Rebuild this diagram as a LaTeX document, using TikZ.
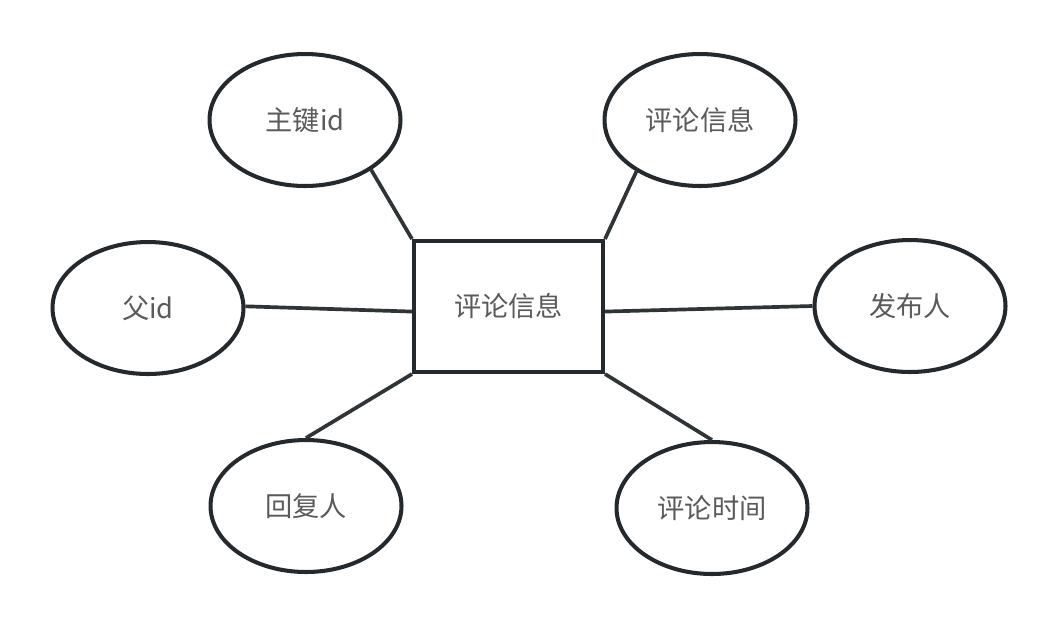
\documentclass[tikz,border=0pt]{standalone}
\usepackage{fontspec}
\setmainfont{Noto Sans CJK SC}
\usepackage{xcolor}
\usetikzlibrary{shapes}

\definecolor{inkdark}{HTML}{24292D}
\definecolor{txtgray}{HTML}{5A5A5A}

\begin{document}
\begin{tikzpicture}[
  x=0.02cm, y=-0.02cm,
  entity/.style={rectangle, draw=inkdark, line width=2.3pt, minimum width=3.78cm, minimum height=2.62cm, inner sep=0pt, font=\fontsize{15.5}{18}\selectfont, text=txtgray},
  attr/.style={ellipse, draw=inkdark, line width=2.3pt, minimum width=3.82cm, minimum height=2.64cm, inner sep=0pt, font=\fontsize{15.5}{18}\selectfont, text=txtgray},
  link/.style={draw=inkdark!95, line width=2.1pt}
]
  \useasboundingbox[fill=white] (0,0) rectangle (1057,627);

  \node[entity] (comment) at (508.5,306.5) {评论信息};

  \node[attr] (pk) at (305,120) {主键id};
  \node[attr] (info) at (700,120) {评论信息};
  \node[attr] (parent) at (148,308) {父id};
  \node[attr] (author) at (910,306) {发布人};
  \node[attr] (replier) at (306,506) {回复人};
  \node[attr] (ctime) at (712,508) {评论时间};

  \draw[link] (pk.-37) -- (comment.north west);
  \draw[link] (info.219) -- (comment.north east);
  \draw[link] (parent.1) -- (comment.183);
  \draw[link] (comment.-3) -- (author.west);
  \draw[link] (comment.south west) -- (replier.north);
  \draw[link] (comment.south east) -- (ctime.north);
\end{tikzpicture}
\end{document}
